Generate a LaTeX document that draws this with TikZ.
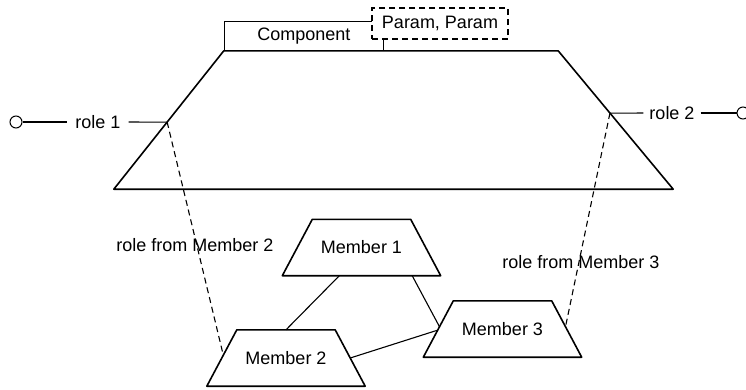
\documentclass[tikz,border=0pt]{standalone}
\usepackage{fontspec}
\setmainfont{Liberation Sans}
\usetikzlibrary{calc}

\begin{document}
\begin{tikzpicture}[x=1pt,y=-1pt,font=\fontsize{18}{22}\selectfont]
\tikzstyle{member}=[inner sep=0pt,minimum width=158pt,minimum height=56pt]
\tikzstyle{outline}=[draw,line width=1.6pt,line join=round]
\tikzstyle{lolly}=[draw,circle,line width=1pt,minimum size=12pt,inner sep=0pt]
\tikzstyle{role}=[inner xsep=8pt,inner ysep=2pt]
\tikzstyle{bind}=[draw,line width=1.1pt,dash pattern=on 6pt off 4pt]
\useasboundingbox (0,0) rectangle (746,389);

% component
\node [inner sep=0pt,minimum width=559pt,minimum height=138pt] (comp) at (393.5,120) {};
\coordinate (ctl) at ([xshift=110pt]comp.north west);
\coordinate (ctr) at ([xshift=-115pt]comp.north east);
\draw [outline] (ctl) -- (ctr) -- (comp.south east) -- (comp.south west) -- cycle;
\node [draw,line width=1.3pt,anchor=south west,inner sep=0pt,minimum width=159pt,minimum height=29pt] (name) at (ctl) {Component};
\node [draw,line width=1.2pt,dash pattern=on 6pt off 4pt,fill=white,inner sep=0pt,minimum width=136pt,minimum height=31pt] (param) at (440,23.5) {Param, Param};

% roles
\node [lolly] (l1) at (16,122) {};
\node [role] (role1) at (98,122) {role 1};
\node [role,inner xsep=6pt] (role2) at (672,113) {role 2};
\node [lolly] (l2) at (743,113) {};
\coordinate (r1) at ($(ctl)!0.515!(comp.south west)$);
\coordinate (r2) at ($(ctr)!0.45!(comp.south east)$);

% members
\node [member] (m1) at (361.5,247.5) {Member 1};
\node [member] (m2) at (286,358) {Member 2};
\node [member] (m3) at (502.5,329) {Member 3};
\foreach \m in {m1,m2,m3}
  \draw [outline] ([xshift=30pt]\m.north west) -- ([xshift=-30pt]\m.north east)
    -- (\m.south east) -- (\m.south west) -- cycle;

\node (from2) at (195,245) {role from Member 2};
\node (from3) at (581,262) {role from Member 3};

\coordinate (m1a) at ($(m1.south west)!0.36!(m1.south east)$);
\coordinate (m1b) at ($(m1.south west)!0.82!(m1.south east)$);
\coordinate (m2a) at ($([xshift=30pt]m2.north west)!0.45!(m2.south west)$);
\coordinate (m2b) at ($([xshift=-30pt]m2.north east)!0.5!(m2.south east)$);
\coordinate (m3a) at ($([xshift=30pt]m3.north west)!0.46!(m3.south west)$);
\coordinate (m3c) at ($([xshift=30pt]m3.north west)!0.52!(m3.south west)$);
\coordinate (m3b) at ($([xshift=-30pt]m3.north east)!0.46!(m3.south east)$);

\path[draw,line width=1.1pt]
(l1) edge node {} (role1)
(role1) edge node {} (r1)
(r2) edge node {} (role2)
(role2) edge node {} (l2)
(m1a) edge node {} (m2.north)
(m1b) edge node {} (m3a)
(m2b) edge node {} (m3c);
\path[bind]
(r1) edge (m2a)
(r2) edge (m3b);
\end{tikzpicture}
\end{document}
